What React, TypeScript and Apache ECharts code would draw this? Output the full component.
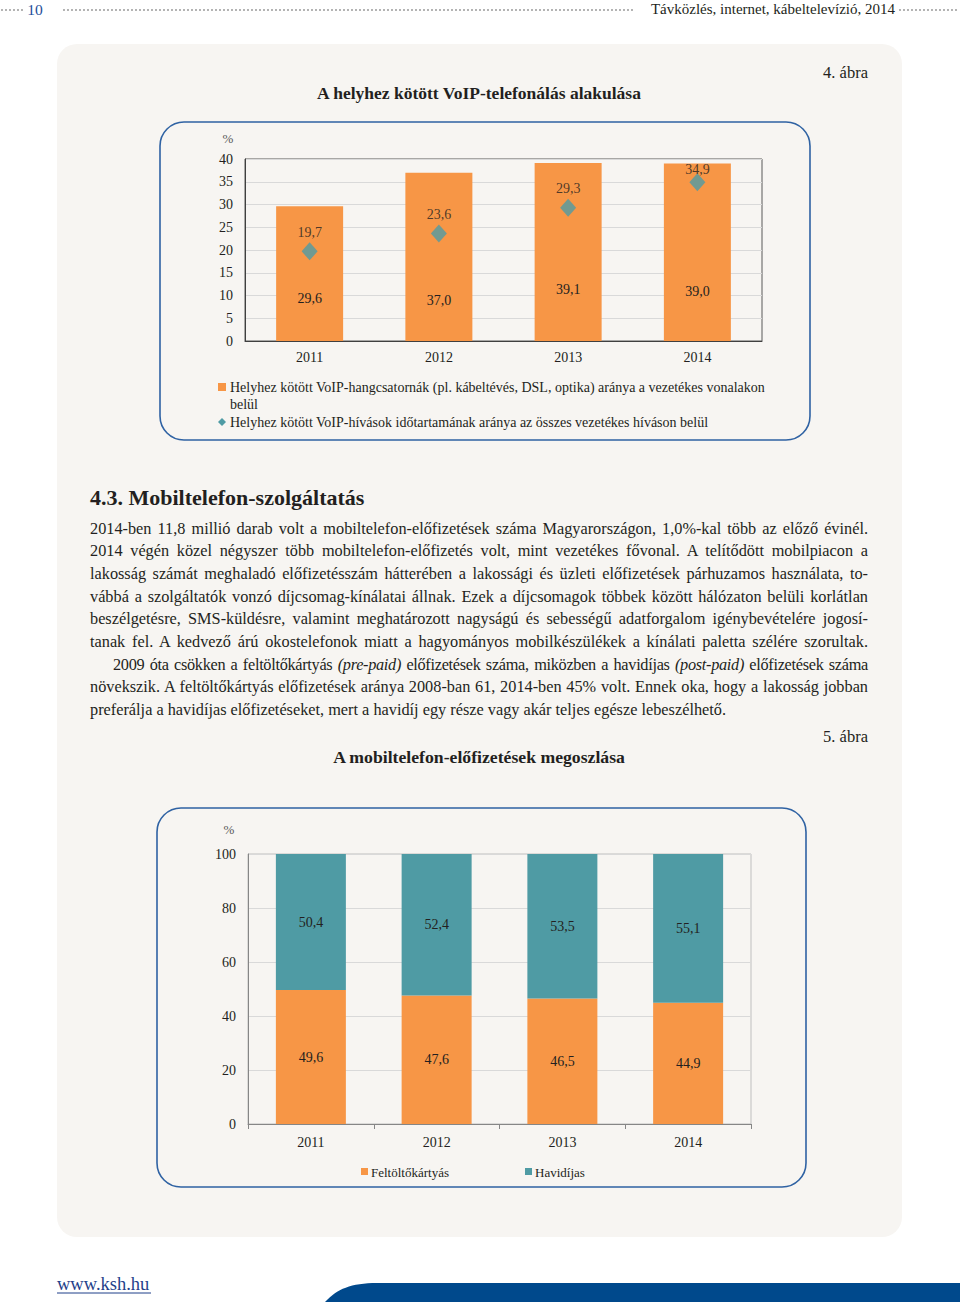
import React, { useEffect, useRef } from 'react';
import * as echarts from 'echarts';

const years = ['2011', '2012', '2013', '2014'];
const voipLineShare = [29.6, 37.0, 39.1, 39.0];
const voipCallShare = [19.7, 23.6, 29.3, 34.9];
const prepaidShare = [49.6, 47.6, 46.5, 44.9];
const postpaidShare = [50.4, 52.4, 53.5, 55.1];

const chart1Axis = { min: 0, max: 40, interval: 5 };
const chart2Axis = { min: 0, max: 100, interval: 20 };

// label placement (styling only)
const lineLabelDistance = [36, 34, 45, 43];
const callLabelDistance = [3, 3, 3, -3];

const chart1Names = [
  'Helyhez kötött VoIP-hangcsatornák (pl. kábeltévés, DSL, optika) aránya a vezetékes vonalakon belül',
  'Helyhez kötött VoIP-hívások időtartamának aránya az összes vezetékes híváson belül',
];
const chart2Names = ['Feltöltőkártyás', 'Havidíjas'];

type Seg = { t: string; i?: boolean };
const paragraphLines: { segs: Seg[]; justify: boolean; indent?: number; tight?: boolean }[] = [
  { segs: [{ t: '2014-ben 11,8 millió darab volt a mobiltelefon-előfizetések száma Magyarországon, 1,0%-kal több az előző évinél.' }], justify: true },
  { segs: [{ t: '2014 végén közel négyszer több mobiltelefon-előfizetés volt, mint vezetékes fővonal. A telítődött mobilpiacon a' }], justify: true },
  { segs: [{ t: 'lakosság számát meghaladó előfizetésszám hátterében a lakossági és üzleti előfizetések párhuzamos használata, to-' }], justify: true },
  { segs: [{ t: 'vábbá a szolgáltatók vonzó díjcsomag-kínálatai állnak. Ezek a díjcsomagok többek között hálózaton belüli korlátlan' }], justify: true },
  { segs: [{ t: 'beszélgetésre, SMS-küldésre, valamint meghatározott nagyságú és sebességű adatforgalom igénybevételére jogosí-' }], justify: true },
  { segs: [{ t: 'tanak fel. A kedvező árú okostelefonok miatt a hagyományos mobilkészülékek a kínálati paletta szélére szorultak.' }], justify: true },
  {
    segs: [
      { t: '2009 óta csökken a feltöltőkártyás ' },
      { t: '(pre-paid)', i: true },
      { t: ' előfizetések száma, miközben a havidíjas ' },
      { t: '(post-paid)', i: true },
      { t: ' előfizetések száma' },
    ],
    justify: true,
    indent: 23,
    tight: true,
  },
  { segs: [{ t: 'növekszik. A feltöltőkártyás előfizetések aránya 2008-ban 61, 2014-ben 45% volt. Ennek oka, hogy a lakosság jobban' }], justify: true },
  { segs: [{ t: 'preferálja a havidíjas előfizetéseket, mert a havidíj egy része vagy akár teljes egésze lebeszélhető.' }], justify: false },
];

const FONT = '"Liberation Serif", "DejaVu Serif", serif';
const TXT = '#231f20';
const ORANGE = '#f79646';
const TEAL = '#4f9ba4';
const BLUE = '#2f62a3';
const PANEL = '#f7f5f2';

const fmt = (v: number) => v.toFixed(1).replace('.', ',');

echarts.graphic.registerShape(
  'kshBand',
  echarts.graphic.extendPath('M0,19 C12,6 26,0 52,0 L635,0 L635,19 Z', {}) as any
);

function txt(text: string, x: number, y: number, size: number, opts: any = {}) {
  return {
    type: 'text',
    x,
    y,
    z: 10,
    style: {
      text,
      font: `${opts.bold ? 'bold ' : ''}${size}px ${FONT}`,
      fill: opts.fill || TXT,
      textAlign: opts.align || 'left',
      textVerticalAlign: 'middle',
    },
  };
}

function dots(x1: number, x2: number, y: number) {
  return {
    type: 'line',
    z: 5,
    shape: { x1, y1: y, x2, y2: y },
    style: { stroke: '#9b9b9b', lineWidth: 2, lineDash: [0, 4], lineCap: 'round' },
  };
}

const valueLabel = { color: TXT, fontSize: 14, fontFamily: FONT, formatter: (p: any) => fmt(p.value) };

const option: any = {
  animation: false,
  textStyle: { fontFamily: FONT },
  grid: [
    { left: 245, top: 159, width: 517, height: 182, show: true, borderColor: '#595959', borderWidth: 1, backgroundColor: 'transparent', outerBoundsMode: 'none' },
    { left: 248, top: 854, width: 503, height: 270, show: true, borderColor: '#bfbfbf', borderWidth: 1, backgroundColor: 'transparent', outerBoundsMode: 'none' },
  ],
  xAxis: [
    {
      gridIndex: 0,
      type: 'category',
      data: years,
      axisLine: { lineStyle: { color: '#404040' } },
      axisTick: { show: false },
      axisLabel: { color: TXT, fontSize: 14, fontFamily: FONT, margin: 9 },
    },
    {
      gridIndex: 1,
      type: 'category',
      data: years,
      axisLine: { lineStyle: { color: '#868686' } },
      axisTick: { show: true, length: 5, lineStyle: { color: '#868686' } },
      axisLabel: { color: TXT, fontSize: 14, fontFamily: FONT, margin: 11 },
    },
  ],
  yAxis: [
    {
      gridIndex: 0,
      type: 'value',
      ...chart1Axis,
      axisLine: { show: true, lineStyle: { color: '#404040' } },
      axisTick: { show: false },
      splitLine: { lineStyle: { color: '#d9d9d9' } },
      axisLabel: { color: TXT, fontSize: 14, fontFamily: FONT, margin: 12 },
    },
    {
      gridIndex: 1,
      type: 'value',
      ...chart2Axis,
      axisLine: { show: true, lineStyle: { color: '#868686' } },
      axisTick: { show: false },
      splitLine: { lineStyle: { color: '#d9d9d9' } },
      axisLabel: { color: TXT, fontSize: 14, fontFamily: FONT, margin: 12 },
    },
  ],
  series: [
    {
      name: chart1Names[0],
      type: 'bar',
      xAxisIndex: 0,
      yAxisIndex: 0,
      data: voipLineShare.map((v, i) => ({ value: v, label: { distance: lineLabelDistance[i] } })),
      barWidth: 67,
      itemStyle: { color: ORANGE },
      label: { show: true, position: 'insideBottom', ...valueLabel },
    },
    {
      name: chart1Names[1],
      type: 'scatter',
      xAxisIndex: 0,
      yAxisIndex: 0,
      data: voipCallShare.map((v, i) => ({ value: v, label: { distance: callLabelDistance[i] } })),
      symbol: 'diamond',
      symbolSize: [16, 18],
      itemStyle: { color: TEAL },
      z: 5,
      label: { show: true, position: 'top', ...valueLabel },
    },
    {
      name: chart2Names[0],
      type: 'bar',
      xAxisIndex: 1,
      yAxisIndex: 1,
      stack: 'sub',
      data: prepaidShare,
      barWidth: 70,
      itemStyle: { color: ORANGE },
      label: { show: true, position: 'inside', ...valueLabel },
    },
    {
      name: chart2Names[1],
      type: 'bar',
      xAxisIndex: 1,
      yAxisIndex: 1,
      stack: 'sub',
      data: postpaidShare,
      barWidth: 70,
      itemStyle: { color: TEAL },
      label: { show: true, position: 'inside', ...valueLabel },
    },
  ],
  graphic: [
    { type: 'rect', z: -100, shape: { x: 57, y: 44, width: 845, height: 1193, r: 20 }, style: { fill: PANEL } },
    // header
    dots(2, 24, 10),
    dots(64, 633, 10),
    dots(900, 960, 10),
    txt('10', 35, 9, 15.5, { fill: '#1f4f9b', align: 'center' }),
    txt('Távközlés, internet, kábeltelevízió, 2014', 895, 9, 15, { align: 'right' }),
    // chart 1
    txt('4. ábra', 868, 72, 16.5, { align: 'right' }),
    txt('A helyhez kötött VoIP-telefonálás alakulása', 479, 93, 17.5, { bold: true, align: 'center' }),
    { type: 'rect', z: 1, shape: { x: 160, y: 122, width: 650, height: 318, r: 24 }, style: { fill: 'none', stroke: BLUE, lineWidth: 1.6 } },
    txt('%', 228, 138, 13, { fill: '#595959', align: 'center' }),
    { type: 'rect', z: 10, shape: { x: 218, y: 383, width: 8, height: 8 }, style: { fill: ORANGE } },
    txt('Helyhez kötött VoIP-hangcsatornák (pl. kábeltévés, DSL, optika) aránya a vezetékes vonalakon', 230, 387, 14),
    txt('belül', 230, 404, 14),
    { type: 'polygon', z: 10, shape: { points: [[222, 418], [226, 422], [222, 426], [218, 422]] }, style: { fill: TEAL } },
    txt('Helyhez kötött VoIP-hívások időtartamának aránya az összes vezetékes híváson belül', 230, 422, 14),
    // section heading
    txt('4.3. Mobiltelefon-szolgáltatás', 90, 497, 22, { bold: true }),
    // chart 2
    txt('5. ábra', 868, 736, 16.5, { align: 'right' }),
    txt('A mobiltelefon-előfizetések megoszlása', 479, 757, 17.7, { bold: true, align: 'center' }),
    { type: 'rect', z: 1, shape: { x: 157, y: 808, width: 649, height: 379, r: 24 }, style: { fill: 'none', stroke: BLUE, lineWidth: 1.6 } },
    txt('%', 229, 829, 13, { fill: '#595959', align: 'center' }),
    { type: 'rect', z: 10, shape: { x: 361, y: 1168, width: 7, height: 7 }, style: { fill: ORANGE } },
    txt(chart2Names[0], 371, 1172, 13),
    { type: 'rect', z: 10, shape: { x: 525, y: 1168, width: 7, height: 7 }, style: { fill: TEAL } },
    txt(chart2Names[1], 535, 1172, 13),
    // footer
    txt('www.ksh.hu', 57, 1284, 18.5, { fill: '#1f3f8a' }),
    { type: 'line', z: 10, shape: { x1: 57, y1: 1293, x2: 151, y2: 1293 }, style: { stroke: '#1f3f8a', lineWidth: 1 } },
    { type: 'kshBand', z: 10, x: 325, y: 1283, style: { fill: '#00498c' } },
  ],
};

export default function App() {
  const ref = useRef<HTMLDivElement>(null);
  useEffect(() => {
    const chart = echarts.init(ref.current!, null, { renderer: 'svg' });
    chart.setOption(option);
    return () => chart.dispose();
  }, []);
  return (
    <div style={{ position: 'absolute', left: 0, top: 0, width: 960, height: 1308, background: '#fff', overflow: 'hidden' }}>
      <div ref={ref} style={{ position: 'absolute', left: 0, top: 0, width: 960, height: 1308 }} />
      <div
        style={{
          position: 'absolute',
          left: 90,
          top: 517.5,
          width: 778,
          fontFamily: FONT,
          fontSize: 16.3,
          lineHeight: '22.7px',
          color: TXT,
          zIndex: 2,
          pointerEvents: 'none',
        }}
      >
        {paragraphLines.map((ln, k) => (
          <div
            key={k}
            style={{
              whiteSpace: 'nowrap',
              textAlign: ln.justify ? 'justify' : 'left',
              textAlignLast: ln.justify ? 'justify' : 'left',
              paddingLeft: ln.indent || 0,
              letterSpacing: ln.tight ? '-0.3px' : undefined,
            }}
          >
            {ln.segs.map((s, j) =>
              s.i ? (
                <i key={j}>{s.t}</i>
              ) : (
                <span key={j}>{s.t}</span>
              )
            )}
          </div>
        ))}
      </div>
    </div>
  );
}
